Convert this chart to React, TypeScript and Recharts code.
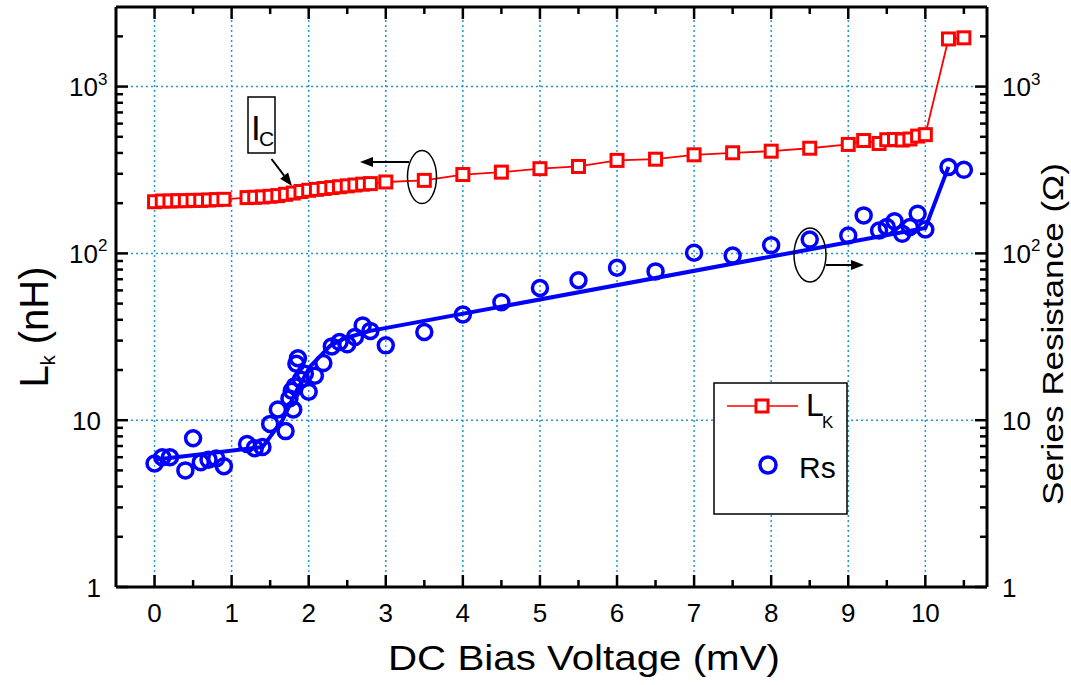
import { ComposedChart, Line, ReferenceLine, XAxis, YAxis } from "recharts";

// Kinetic inductance L_K (nH) vs DC bias (mV)
const lkVolts = [
  0, 0.1, 0.2, 0.3, 0.4, 0.5, 0.6, 0.7, 0.8, 0.9, 1.2, 1.3, 1.4, 1.5, 1.6,
  1.7, 1.8, 1.9, 2.0, 2.1, 2.2, 2.3, 2.4, 2.5, 2.6, 2.7, 2.8, 3.0, 3.5, 4.0,
  4.5, 5.0, 5.5, 6.0, 6.5, 7.0, 7.5, 8.0, 8.5, 9.0, 9.2, 9.4, 9.5, 9.6, 9.7,
  9.8, 9.9, 10.0, 10.3, 10.5,
];
const lkValues = [
  204, 206, 206, 207, 207, 208, 208, 209, 210, 211, 216, 217, 218, 220, 222,
  226, 230, 235, 239, 242, 245, 248, 251, 254, 257, 260, 262, 268, 274, 297,
  307, 322, 332, 361, 367, 390, 401, 410, 427, 450, 475, 456, 480, 482, 478,
  485, 505, 515, 1930, 1960,
];

// Series resistance Rs (Ohm)
const rsVolts = [
  0, 0.1, 0.2, 0.4, 0.5, 0.6, 0.7, 0.8, 0.9, 1.2, 1.3, 1.4, 1.5, 1.6, 1.7,
  1.75, 1.78, 1.8, 1.82, 1.84, 1.86, 1.9, 1.95, 2.0, 2.08, 2.19, 2.3, 2.4,
  2.5, 2.6, 2.7, 2.8, 3.0, 3.5, 4.0, 4.5, 5.0, 5.5, 6.0, 6.5, 7.0, 7.5, 8.0,
  8.5, 9.0, 9.2, 9.4, 9.5, 9.6, 9.7, 9.8, 9.9, 10.0, 10.3, 10.5,
];
const rsValues = [
  5.5, 6.0, 6.0, 5.0, 7.8, 5.6, 5.8, 5.9, 5.3, 7.2, 6.8, 6.9, 9.5, 11.6, 8.6,
  13.5, 15, 11.6, 16, 21.8, 23.5, 17.5, 19, 14.8, 18.5, 22, 27.7, 29.4, 28.5,
  31.5, 37, 34.3, 28.1, 33.8, 43, 51, 62, 69, 82, 78, 101, 97, 112, 121, 128,
  169, 137, 144, 156, 131, 144, 173, 139, 329, 317,
];

// guide line drawn through the Rs points
const fitVolts = [0, 1.4, 1.66, 1.84, 2.02, 2.28, 2.47, 2.8, 10.0, 10.3];
const fitValues = [5.8, 6.9, 10, 15, 21, 28, 31, 34.3, 142, 330];

const xTicks = [
  0, 0.5, 1, 1.5, 2, 2.5, 3, 3.5, 4, 4.5, 5, 5.5, 6, 6.5, 7, 7.5, 8, 8.5, 9,
  9.5, 10, 10.5,
];
const yTicks = [
  1, 2, 3, 4, 5, 6, 7, 8, 9, 10, 20, 30, 40, 50, 60, 70, 80, 90, 100, 200, 300,
  400, 500, 600, 700, 800, 900, 1000, 2000,
];
const gridVolts = [0, 1, 2, 3, 4, 5, 6, 7, 8, 9, 10];
const gridDecades = [10, 100, 1000];

const lkData = lkVolts.map((x, i) => ({ x, v: lkValues[i] }));
const rsData = rsVolts.map((x, i) => ({ x, v: rsValues[i] }));
const fitData = fitVolts.map((x, i) => ({ x, v: fitValues[i] }));

const FONT = '"Liberation Sans", Arial, Helvetica, sans-serif';
const RED = "#ff0000";
const BLUE = "#0000ff";
const GRID = "#1a9ccc";
const MAJOR = 12;
const MINOR = 7;
const TICK_FONT = 26;

const isDecade = (v: number) => v === 1 || v === 10 || v === 100 || v === 1000;
const isWhole = (v: number) => Math.abs(v - Math.round(v)) < 1e-6;

// "1", "10", "10²", "10³"
const DecadeLabel = ({ x, y, value, align }: any) => {
  const exp = Math.round(Math.log10(value));
  if (exp <= 1) {
    return (
      <text x={x} y={y + 9.5} textAnchor={align} fontSize={TICK_FONT} fontFamily={FONT} fill="#000">
        {String(value)}
      </text>
    );
  }
  if (align === "end") {
    return (
      <g>
        <text x={x - 3} y={y + 9.5} textAnchor="end" fontSize={TICK_FONT} fontFamily={FONT} fill="#000">
          10
        </text>
        <text x={x - 3} y={y - 2} fontSize={17} fontFamily={FONT} fill="#000">
          {exp}
        </text>
      </g>
    );
  }
  return (
    <text x={x} y={y + 9.5} fontSize={TICK_FONT} fontFamily={FONT} fill="#000">
      10
      <tspan dy={-11.5} fontSize={17}>
        {exp}
      </tspan>
    </text>
  );
};

const renderLeftTick = (p: any) => {
  const v = p.payload.value;
  const major = isDecade(v);
  return (
    <g>
      <line x1={p.x} x2={p.x + (major ? MAJOR : MINOR)} y1={p.y} y2={p.y} stroke="#000" strokeWidth={2.5} />
      {major && <DecadeLabel x={p.x - 15} y={p.y} value={v} align="end" />}
    </g>
  );
};

const renderRightTick = (p: any) => {
  const v = p.payload.value;
  const major = isDecade(v);
  return (
    <g>
      <line x1={p.x} x2={p.x - (major ? MAJOR : MINOR)} y1={p.y} y2={p.y} stroke="#000" strokeWidth={2.5} />
      {major && <DecadeLabel x={p.x + 15} y={p.y} value={v} align="start" />}
    </g>
  );
};

const renderBottomTick = (p: any) => {
  const v = p.payload.value;
  const major = isWhole(v);
  return (
    <g>
      <line x1={p.x} x2={p.x} y1={p.y} y2={p.y - (major ? MAJOR : MINOR)} stroke="#000" strokeWidth={2.5} />
      {major && (
        <text x={p.x} y={p.y + 35} textAnchor="middle" fontSize={TICK_FONT} fontFamily={FONT} fill="#000">
          {String(v)}
        </text>
      )}
    </g>
  );
};

const renderTopTick = (p: any) => {
  const v = p.payload.value;
  const major = isWhole(v);
  return (
    <line x1={p.x} x2={p.x} y1={p.y} y2={p.y + (major ? MAJOR : MINOR)} stroke="#000" strokeWidth={2.5} />
  );
};

const renderSquare = (p: any) => (
  <rect
    key={`sq-${p.index}`}
    x={p.cx - 6}
    y={p.cy - 6}
    width={12}
    height={12}
    fill="#fff"
    stroke={RED}
    strokeWidth={3}
  />
);

const renderCircle = (p: any) => (
  <circle key={`ci-${p.index}`} cx={p.cx} cy={p.cy} r={7.5} fill="none" stroke={BLUE} strokeWidth={3.5} />
);

// filled arrow head at (x2, y2)
const Arrow = ({ x1, y1, x2, y2 }: any) => {
  const len = Math.hypot(x2 - x1, y2 - y1);
  const ux = (x2 - x1) / len;
  const uy = (y2 - y1) / len;
  const hl = 13;
  const hw = 5;
  const bx = x2 - ux * hl;
  const by = y2 - uy * hl;
  const pts = `${x2},${y2} ${bx - uy * hw},${by + ux * hw} ${bx + uy * hw},${by - ux * hw}`;
  return (
    <g>
      <line x1={x1} y1={y1} x2={bx} y2={by} stroke="#000" strokeWidth={2} />
      <polygon points={pts} fill="#000" />
    </g>
  );
};

const Overlay = () => (
  <svg
    width={1071}
    height={685}
    style={{ position: "absolute", left: 0, top: 0, pointerEvents: "none" }}
    fontFamily={FONT}
  >
    {/* axis titles */}
    <text x={388} y={670} fontSize={35} textLength={392} lengthAdjust="spacingAndGlyphs" fill="#000">
      DC Bias Voltage (mV)
    </text>
    <text
      transform="translate(1063,334) rotate(-90)"
      textAnchor="middle"
      fontSize={30}
      textLength={342}
      lengthAdjust="spacingAndGlyphs"
      fill="#000"
    >
      Series Resistance (Ω)
    </text>
    <text transform="translate(48,327) rotate(-90)" textAnchor="middle" fontSize={40} fill="#000">
      L
      <tspan fontSize={20} dy={7}>
        k
      </tspan>
      <tspan dy={-7}> (nH)</tspan>
    </text>

    {/* I_C marker */}
    <rect x={248} y={97} width={27} height={56} fill="#fff" stroke="#000" strokeWidth={1.5} />
    <text x={251} y={140} fontSize={35} fill="#000">
      I
    </text>
    <text x={259} y={146} fontSize={21} fill="#000">
      C
    </text>
    <Arrow x1={271.5} y1={159} x2={292} y2={186} />

    {/* axis pointers */}
    <ellipse cx={422} cy={177} rx={14.5} ry={26.5} fill="none" stroke="#000" strokeWidth={1.5} />
    <Arrow x1={409} y1={162} x2={360} y2={162} />
    <ellipse cx={810} cy={255} rx={16} ry={27} fill="none" stroke="#000" strokeWidth={1.5} />
    <Arrow x1={826} y1={265} x2={864} y2={265} />

    {/* legend */}
    <rect x={714} y={383} width={133} height={131} fill="#fff" stroke="#000" strokeWidth={1.5} />
    <line x1={727} x2={798} y1={406} y2={406} stroke={RED} strokeWidth={1.5} />
    <rect x={756} y={400} width={12} height={12} fill="#fff" stroke={RED} strokeWidth={3} />
    <text x={806} y={416} fontSize={32} fill="#000">
      L
    </text>
    <text x={822} y={428} fontSize={17} fill="#000">
      K
    </text>
    <circle cx={768} cy={465} r={8} fill="none" stroke={BLUE} strokeWidth={3.5} />
    <text x={799} y={478} fontSize={30} fill="#000">
      Rs
    </text>
  </svg>
);

export default function App() {
  return (
    <div style={{ position: "absolute", left: 0, top: 0, width: 1071, height: 685, background: "#fff" }}>
      <ComposedChart width={1071} height={685} margin={{ top: 0, right: 0, bottom: 0, left: 0 }}>
        <XAxis
          xAxisId="b"
          dataKey="x"
          type="number"
          domain={[-0.5, 10.8]}
          allowDataOverflow
          ticks={xTicks}
          interval={0}
          height={98}
          tickSize={0}
          tickMargin={0}
          tickLine={false}
          axisLine={{ stroke: "#000", strokeWidth: 3 }}
          tick={renderBottomTick}
        />
        <XAxis
          xAxisId="t"
          orientation="top"
          dataKey="x"
          type="number"
          domain={[-0.5, 10.8]}
          allowDataOverflow
          ticks={xTicks}
          interval={0}
          height={7}
          tickSize={0}
          tickMargin={0}
          tickLine={false}
          axisLine={{ stroke: "#000", strokeWidth: 3 }}
          tick={renderTopTick}
        />
        <YAxis
          yAxisId="l"
          type="number"
          scale="log"
          domain={[1, 3000]}
          allowDataOverflow
          ticks={yTicks}
          interval={0}
          width={116}
          tickSize={0}
          tickMargin={0}
          tickLine={false}
          axisLine={{ stroke: "#000", strokeWidth: 3 }}
          tick={renderLeftTick}
        />
        <YAxis
          yAxisId="r"
          orientation="right"
          type="number"
          scale="log"
          domain={[1, 3000]}
          allowDataOverflow
          ticks={yTicks}
          interval={0}
          width={84}
          tickSize={0}
          tickMargin={0}
          tickLine={false}
          axisLine={{ stroke: "#000", strokeWidth: 3 }}
          tick={renderRightTick}
        />

        {gridVolts.map((v) => (
          <ReferenceLine
            key={`gx-${v}`}
            xAxisId="b"
            yAxisId="l"
            x={v}
            stroke={GRID}
            strokeWidth={1.5}
            strokeDasharray="2 3"
          />
        ))}
        {gridDecades.map((v) => (
          <ReferenceLine
            key={`gy-${v}`}
            xAxisId="b"
            yAxisId="l"
            y={v}
            stroke={GRID}
            strokeWidth={1.5}
            strokeDasharray="2 3"
          />
        ))}

        <Line
          xAxisId="b"
          yAxisId="l"
          data={lkData}
          dataKey="v"
          type="linear"
          stroke={RED}
          strokeWidth={1.8}
          dot={renderSquare}
          activeDot={false}
          isAnimationActive={false}
        />
        <Line
          xAxisId="b"
          yAxisId="r"
          data={fitData}
          dataKey="v"
          type="linear"
          stroke={BLUE}
          strokeWidth={4}
          dot={false}
          activeDot={false}
          isAnimationActive={false}
        />
        <Line
          xAxisId="b"
          yAxisId="r"
          data={rsData}
          dataKey="v"
          type="linear"
          stroke="none"
          dot={renderCircle}
          activeDot={false}
          isAnimationActive={false}
        />
      </ComposedChart>
      <Overlay />
    </div>
  );
}
